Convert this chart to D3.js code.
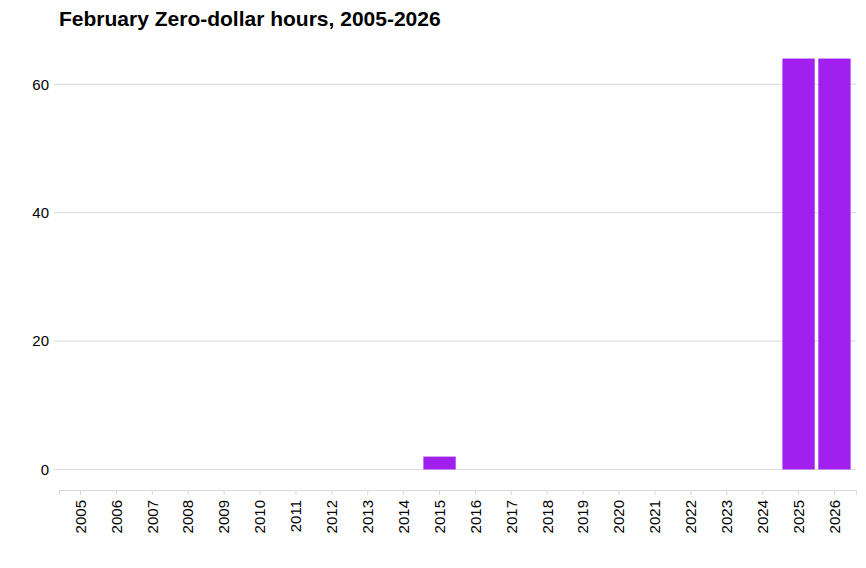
<!DOCTYPE html>
<html>
<head>
<meta charset="utf-8">
<script src="https://cdn.jsdelivr.net/npm/d3@7"></script>
<style>
  body { margin: 0; background: #fff; }
  svg { display: block; font-family: "Liberation Sans", Arial, sans-serif; }
</style>
</head>
<body>
<svg id="chart"></svg>
<script>
const YEARS = ["2005", "2006", "2007", "2008", "2009", "2010", "2011", "2012", "2013", "2014", "2015",
  "2016", "2017", "2018", "2019", "2020", "2021", "2022", "2023", "2024", "2025", "2026"]
const ZERO_DOLLAR_HOURS = [0, 0, 0, 0, 0, 0, 0, 0, 0, 0, 2, 0, 0, 0, 0, 0, 0, 0, 0, 0, 64, 64]
const Y_TICKS = [0, 20, 40, 60]
const TITLE = "February Zero-dollar hours, 2005-2026"

const width = 866, height = 568
const margin = {top: 38, right: 10, bottom: 78, left: 59}
const gridColor = "#d9d9d9"
const barColor = "#a020f0"

const svg = d3.select("#chart")
    .attr("width", width)
    .attr("height", height)

const innerW = width - margin.left - margin.right
const innerH = height - margin.top - margin.bottom

const g = svg.append("g")
    .attr("transform", `translate(${margin.left},${margin.top})`)

// ggplot-like expansion: 0.6 band on discrete x, 5% on continuous y
const xScale = d3.scaleBand()
    .domain(YEARS)
    .range([0, innerW])
    .paddingInner(0.1)
    .paddingOuter(0.15)

const yMax = d3.max(ZERO_DOLLAR_HOURS)
const yScale = d3.scaleLinear()
    .domain([-0.05 * yMax, yMax * 1.05])
    .range([innerH, 0])

// horizontal gridlines (with the tick stub on the left)
g.append("g")
    .selectAll("line")
    .data(Y_TICKS)
    .join("line")
    .attr("x1", -5)
    .attr("x2", innerW)
    .attr("y1", d => yScale(d))
    .attr("y2", d => yScale(d))
    .attr("stroke", gridColor)
    .attr("stroke-width", 1)

// y tick labels
const yAxis = d3.axisLeft(yScale).tickValues(Y_TICKS).tickSize(0).tickPadding(10)
g.append("g")
    .call(yAxis)
    .call(a => a.select(".domain").remove())
    .selectAll("text")
    .attr("fill", "#000")
    .style("font-size", "15px")
    .style("font-family", "Liberation Sans, Arial, sans-serif")

// bars
g.selectAll(".bar")
    .data(YEARS.map((y, i) => ({year: y, value: ZERO_DOLLAR_HOURS[i]})))
    .join("rect")
    .attr("class", "bar")
    .attr("x", d => xScale(d.year))
    .attr("width", xScale.bandwidth())
    .attr("y", d => yScale(Math.max(0, d.value)))
    .attr("height", d => Math.abs(yScale(0) - yScale(d.value)))
    .attr("fill", barColor)

// x axis
const xAxis = d3.axisBottom(xScale).tickSizeOuter(0).tickSize(5).tickPadding(5)
const xAxisGroup = g.append("g")
    .attr("transform", `translate(0,${innerH})`)
    .call(xAxis)

xAxisGroup.select(".domain").attr("stroke", gridColor)
xAxisGroup.selectAll(".tick line").attr("stroke", gridColor)
xAxisGroup.selectAll("text")
    .attr("fill", "#000")
    .style("font-size", "15px")
    .style("font-family", "Liberation Sans, Arial, sans-serif")
    .attr("transform", "rotate(-90)")
    .attr("text-anchor", "end")
    .attr("x", -10)
    .attr("y", 0)
    .attr("dy", "0.35em")

// title
svg.append("text")
    .attr("x", margin.left)
    .attr("y", 26)
    .style("font-size", "21px")
    .style("font-weight", "bold")
    .attr("fill", "#000")
    .text(TITLE)
</script>
</body>
</html>
